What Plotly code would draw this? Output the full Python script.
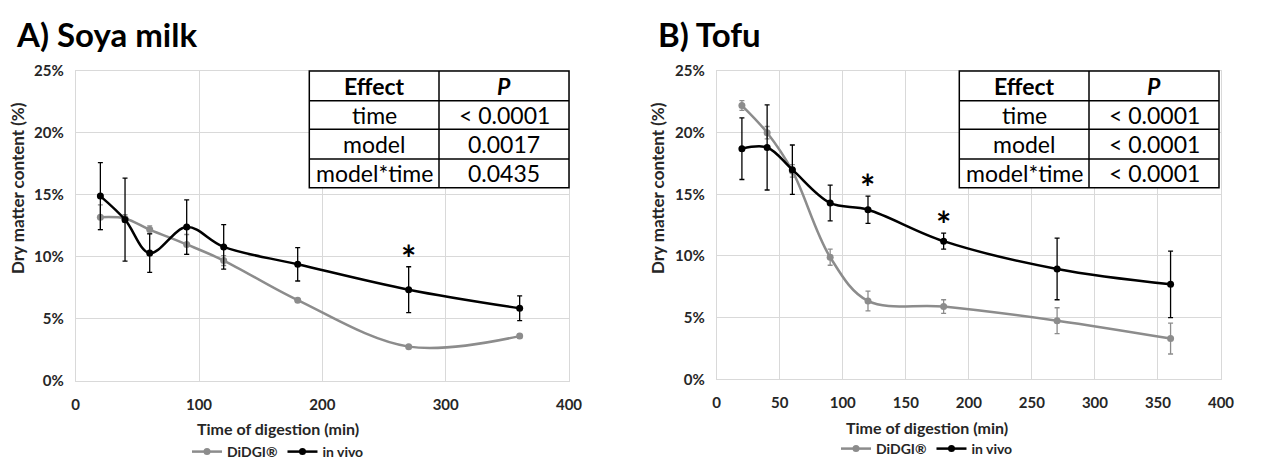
import plotly.graph_objects as go

# ---------------- data ----------------
time_soya = [20, 40, 60, 90, 120, 180, 270, 360]
soya_didgi = [13.2, 13.1, 12.2, 11.0, 9.7, 6.5, 2.75, 3.6]
soya_didgi_err = [1.0, 0.3, 0.3, 0.8, 0.4, 0.15, 0.1, 0.15]
soya_vivo = [14.9, 13.0, 10.3, 12.4, 10.8, 9.4, 7.35, 5.85]
soya_vivo_err = [2.7, 3.35, 1.55, 2.2, 1.8, 1.35, 1.85, 1.0]

time_tofu = [20, 40, 60, 90, 120, 180, 270, 360]
tofu_didgi = [22.2, 20.0, 16.9, 9.9, 6.35, 5.9, 4.75, 3.3]
tofu_didgi_err = [0.4, 0.5, 0.5, 0.65, 0.8, 0.55, 1.05, 1.25]
tofu_vivo = [18.7, 18.8, 17.0, 14.3, 13.75, 11.2, 8.95, 7.7]
tofu_vivo_err = [2.5, 3.45, 2.0, 1.45, 1.1, 0.65, 2.5, 2.7]

soya_star_times = [270]
tofu_star_times = [120, 180]

effects = ["time", "model", "model*time"]
p_soya = ["< 0.0001", "0.0017", "0.0435"]
p_tofu = ["< 0.0001", "< 0.0001", "< 0.0001"]

series_names = ["DiDGI®", "in vivo"]
titles = ["A) Soya milk", "B) Tofu"]

# ---------------- style ----------------
W, H = 1273, 463
FONT = "Lato"
GREY = "#8c8c8c"
BLACK = "#000000"
GRID = "#d9d9d9"
TXT = "#262626"


def px(x):
    return x / W


def py(y):
    return 1 - y / H


fig = go.Figure()

panels = [
    dict(t=time_soya, d=soya_didgi, de=soya_didgi_err, v=soya_vivo, ve=soya_vivo_err,
         stars=soya_star_times, p=p_soya, xa="x", ya="y", legend="legend"),
    dict(t=time_tofu, d=tofu_didgi, de=tofu_didgi_err, v=tofu_vivo, ve=tofu_vivo_err,
         stars=tofu_star_times, p=p_tofu, xa="x2", ya="y2", legend="legend2"),
]

for pn in panels:
    for name, ys, es, col in [(series_names[0], pn["d"], pn["de"], GREY),
                              (series_names[1], pn["v"], pn["ve"], BLACK)]:
        fig.add_trace(go.Scatter(
            x=pn["t"], y=ys, name=name, mode="lines+markers",
            line=dict(color=col, width=2.5, shape="spline", smoothing=1.0),
            marker=dict(color=col, size=7),
            error_y=dict(type="data", array=es, visible=True, color=col,
                         thickness=1.3, width=2.5),
            xaxis=pn["xa"], yaxis=pn["ya"], legend=pn["legend"],
        ))

# stars above in vivo error bars
for pn in panels:
    for st in pn["stars"]:
        i = pn["t"].index(st)
        top = pn["v"][i] + pn["ve"][i]
        fig.add_annotation(x=st, y=top, xref=pn["xa"], yref=pn["ya"], text="*",
                           showarrow=False, yanchor="bottom", yshift=-15,
                           font=dict(family=FONT, size=36, color="black", weight="bold"))

axis_common = dict(showgrid=True, gridcolor=GRID, gridwidth=1, zeroline=False,
                   showline=True, linecolor=GRID, linewidth=1, mirror=True,
                   ticks="", automargin=False,
                   tickfont=dict(family=FONT, size=15, color=TXT, weight="bold"))

legfont = dict(family=FONT, size=14, color=TXT, weight="bold")
fig.update_layout(
    width=W, height=H, margin=dict(l=0, r=0, t=0, b=0, autoexpand=False),
    paper_bgcolor="white", plot_bgcolor="white", showlegend=True,
    font=dict(family=FONT),
    xaxis=dict(domain=[px(75.7), px(569)], range=[0, 400], dtick=100, anchor="y",
               ticklabelstandoff=10, **axis_common),
    yaxis=dict(domain=[py(380.7), py(71)], range=[0, 25], dtick=5, ticksuffix="%", anchor="x",
               ticklabelstandoff=8, **axis_common),
    xaxis2=dict(domain=[px(716.7), px(1221)], range=[0, 400], dtick=50, anchor="y2",
                ticklabelstandoff=10, **axis_common),
    yaxis2=dict(domain=[py(379.3), py(71)], range=[0, 25], dtick=5, ticksuffix="%", anchor="x2",
                ticklabelstandoff=8, **axis_common),
    legend=dict(orientation="h", x=px(278), y=py(452), xanchor="center", yanchor="middle",
                font=legfont, bgcolor="rgba(0,0,0,0)", itemwidth=30, tracegroupgap=0),
    legend2=dict(orientation="h", x=px(927), y=py(449), xanchor="center", yanchor="middle",
                 font=legfont, bgcolor="rgba(0,0,0,0)", itemwidth=30, tracegroupgap=0),
)

# panel titles
for tx, xpos in zip(titles, [14, 656]):
    fig.add_annotation(x=px(xpos), y=py(34), xref="paper", yref="paper", text=tx,
                       showarrow=False, xanchor="left", yanchor="middle",
                       font=dict(family=FONT, size=33, color="black", weight="bold"))

# axis titles
for xc, yc in [(18, 188), (658, 188)]:
    fig.add_annotation(x=px(xc), y=py(yc), xref="paper", yref="paper",
                       text="Dry matter content (%)", textangle=-90, showarrow=False,
                       xanchor="center", yanchor="middle",
                       font=dict(family=FONT, size=17, color=TXT, weight="bold"))
for xc, yc in [(278, 428), (927, 427)]:
    fig.add_annotation(x=px(xc), y=py(yc), xref="paper", yref="paper",
                       text="Time of digestion (min)", showarrow=False,
                       xanchor="center", yanchor="middle",
                       font=dict(family=FONT, size=16, color=TXT, weight="bold"))

# tables
tables = [(309.3, 439, 569, p_soya), (959.3, 1089, 1219, p_tofu)]
row_y = [71, 100.7, 129.3, 159, 187.7]
for x0, xm, x1, pv in tables:
    fig.add_shape(type="rect", xref="paper", yref="paper", x0=px(x0), x1=px(x1),
                  y0=py(row_y[-1]), y1=py(row_y[0]), line=dict(color="black", width=1.5),
                  fillcolor="white", layer="above")
    fig.add_shape(type="line", xref="paper", yref="paper", x0=px(xm), x1=px(xm),
                  y0=py(row_y[-1]), y1=py(row_y[0]), line=dict(color="black", width=1.5))
    for ry in row_y[1:-1]:
        fig.add_shape(type="line", xref="paper", yref="paper", x0=px(x0), x1=px(x1),
                      y0=py(ry), y1=py(ry), line=dict(color="black", width=1.5))
    cells = [("Effect", "<b><i>P</i></b>", True)] + [(e, p, False) for e, p in zip(effects, pv)]
    for r, (c1, c2, hdr) in enumerate(cells):
        yc = (row_y[r] + row_y[r + 1]) / 2
        for txt, xc in [(c1, (x0 + xm) / 2), (c2, (xm + x1) / 2)]:
            fig.add_annotation(x=px(xc), y=py(yc), xref="paper", yref="paper", text=txt,
                               showarrow=False, xanchor="center", yanchor="middle",
                               font=dict(family=FONT, size=23, color="black",
                                         weight="bold" if hdr else "normal"))

fig.write_html("out.html", config={"displayModeBar": False},
               post_script="document.body.style.margin='0';document.body.style.padding='0';")
